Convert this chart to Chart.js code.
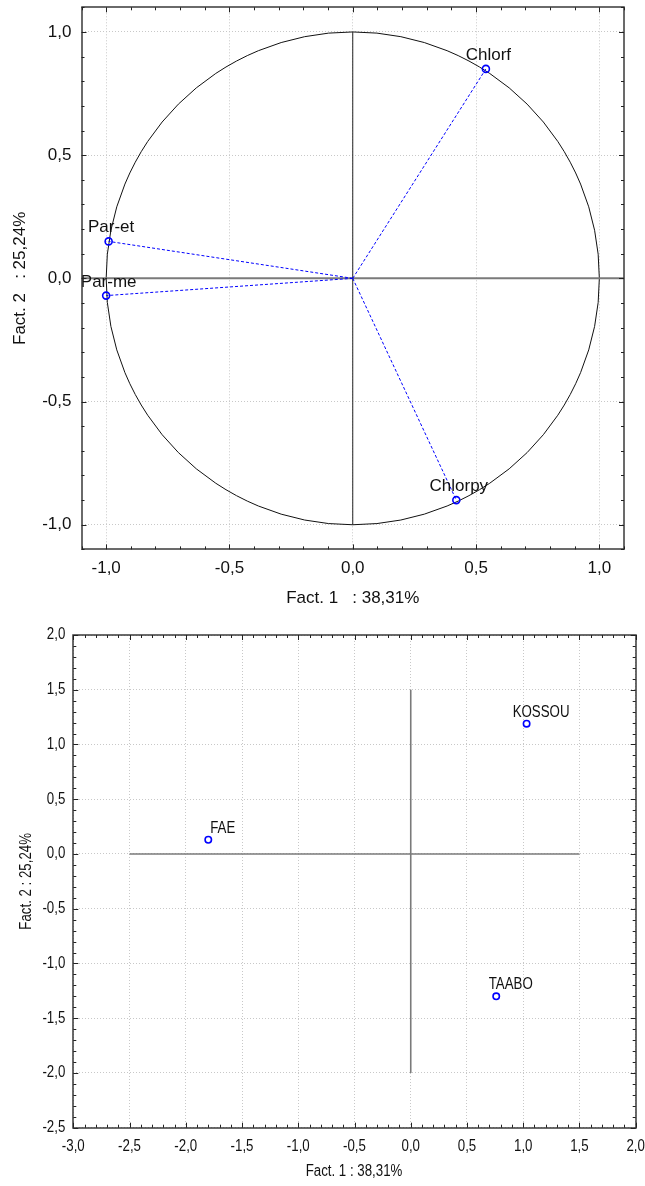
<!DOCTYPE html>
<html><head><meta charset="utf-8">
<script src="https://cdn.jsdelivr.net/npm/chart.js@4.4.0/dist/chart.umd.min.js"></script>
<style>
html,body{margin:0;padding:0;background:#fff;}
#w1{position:absolute;left:0;top:0;width:645px;height:610px;}
#w2{position:absolute;left:0;top:610px;width:645px;height:576px;}
</style></head><body>
<div id="w1"><canvas id="c1" width="645" height="610"></canvas></div>
<div id="w2"><canvas id="c2" width="645" height="576"></canvas></div>
<script>
// ---------- Top chart: variables (correlation circle) ----------
const varNames = ['Chlorf', 'Par-et', 'Par-me', 'Chlorpy'];
const varF1 = [0.54, -0.99, -1.00, 0.42];
const varF2 = [0.85, 0.15, -0.07, -0.90];
const topTicks = [-1.0, -0.5, 0.0, 0.5, 1.0];
const topRange = [-1.1, 1.1];
const topHAxis = [-1.1, 1.1];
const topVAxis = [-1.0, 1.0];
const topXTitle = 'Fact. 1   : 38,31%';
const topYTitle = 'Fact. 2   : 25,24%';

// ---------- Bottom chart: sites ----------
const siteNames = ['KOSSOU', 'FAE', 'TAABO'];
const siteF1 = [1.03, -1.80, 0.76];
const siteF2 = [1.19, 0.13, -1.30];
const botXTicks = [-3.0, -2.5, -2.0, -1.5, -1.0, -0.5, 0.0, 0.5, 1.0, 1.5, 2.0];
const botYTicks = [-2.5, -2.0, -1.5, -1.0, -0.5, 0.0, 0.5, 1.0, 1.5, 2.0];
const botXRange = [-3.0, 2.0];
const botYRange = [-2.5, 2.0];
const botHAxis = [-2.5, 1.5];
const botVAxis = [-2.0, 1.5];
const botXTitle = 'Fact. 1 : 38,31%';
const botYTitle = 'Fact. 2 : 25,24%';

const BLUE = '#0000ff';
const fmt = v => (Math.abs(v) < 1e-9 ? 0 : v).toFixed(1).replace('.', ',');

function textSq(ctx, t, x, y, sx) {
  ctx.save(); ctx.translate(x, y); ctx.scale(sx, 1); ctx.fillText(t, 0, 0); ctx.restore();
}

function frameAndTicksPlugin(opts) {
  return {
    id: 'frameTicks' + opts.key,
    beforeDatasetsDraw(chart) {
      const ctx = chart.ctx;
      const xs = chart.scales.x, ys = chart.scales.y;
      if (opts.circle) {
        const cx = xs.getPixelForValue(0), cy = ys.getPixelForValue(0);
        const rx = xs.getPixelForValue(1) - cx, ry = cy - ys.getPixelForValue(1);
        ctx.save();
        ctx.strokeStyle = '#111'; ctx.lineWidth = 1;
        ctx.beginPath(); ctx.ellipse(cx, cy, rx, ry, 0, 0, Math.PI * 2); ctx.stroke();
        ctx.restore();
      }
    },
    afterDatasetsDraw(chart) {
      const ctx = chart.ctx, a = chart.chartArea;
      const xs = chart.scales.x, ys = chart.scales.y;
      const sx = opts.squeeze;
      ctx.save();
      // point labels
      ctx.font = opts.labelFont; ctx.fillStyle = '#111';
      ctx.textAlign = 'center'; ctx.textBaseline = 'alphabetic';
      opts.names.forEach((n, i) => {
        const px = xs.getPixelForValue(opts.f1[i]), py = ys.getPixelForValue(opts.f2[i]);
        textSq(ctx, n, px + opts.lblDx, py - opts.lblDy, sx);
      });
      // frame
      ctx.strokeStyle = '#3a3a3a'; ctx.lineWidth = 1.5;
      ctx.strokeRect(Math.round(a.left), Math.round(a.top),
                     Math.round(a.right) - Math.round(a.left), Math.round(a.bottom) - Math.round(a.top));
      // inward minor ticks every 0.1
      ctx.lineWidth = 1; ctx.strokeStyle = '#222';
      ctx.beginPath();
      for (let i = Math.ceil(xs.min * 10 - 1e-6); i <= Math.floor(xs.max * 10 + 1e-6); i++) {
        const p = Math.round(xs.getPixelForValue(i / 10)) + 0.5;
        const L = (i % 5 === 0) ? 5 : 3;
        ctx.moveTo(p, a.bottom); ctx.lineTo(p, a.bottom - L);
        ctx.moveTo(p, a.top); ctx.lineTo(p, a.top + L);
      }
      for (let i = Math.ceil(ys.min * 10 - 1e-6); i <= Math.floor(ys.max * 10 + 1e-6); i++) {
        const p = Math.round(ys.getPixelForValue(i / 10)) + 0.5;
        const L = (i % 5 === 0) ? 5 : 3;
        ctx.moveTo(a.left, p); ctx.lineTo(a.left + L, p);
        ctx.moveTo(a.right, p); ctx.lineTo(a.right - L, p);
      }
      ctx.stroke();
      ctx.restore();
    },
    afterDraw(chart) {
      const ctx = chart.ctx, a = chart.chartArea;
      const xs = chart.scales.x, ys = chart.scales.y;
      const sx = opts.squeeze;
      ctx.save();
      ctx.fillStyle = '#111';
      // tick labels (drawn here when squeezed text is needed)
      if (opts.ownTicks) {
        ctx.font = opts.tickFont; ctx.textBaseline = 'middle';
        ctx.textAlign = 'center';
        xs.ticks.forEach(t => textSq(ctx, fmt(t.value), xs.getPixelForValue(t.value), a.bottom + opts.xTickDy, sx));
        ctx.textAlign = 'right';
        ys.ticks.forEach(t => textSq(ctx, fmt(t.value), a.left - opts.yTickDx, ys.getPixelForValue(t.value), sx));
      }
      // axis titles
      ctx.font = opts.titleFont;
      ctx.textAlign = 'center'; ctx.textBaseline = 'middle';
      textSq(ctx, opts.xTitle, (a.left + a.right) / 2 + opts.xTitleDx, opts.xTitleY, sx);
      ctx.translate(opts.yTitleX, (a.top + a.bottom) / 2);
      ctx.rotate(-Math.PI / 2);
      textSq(ctx, opts.yTitle, 0, 0, sx);
      ctx.restore();
    }
  };
}

function axisScale(range, ticks, font, pad, fitKey, fitVal, showLabels) {
  return {
    type: 'linear', min: range[0], max: range[1],
    afterBuildTicks: s => { s.ticks = ticks.map(v => ({ value: v })); },
    afterFit: s => {
      s[fitKey] = fitVal;
      s.paddingTop = 0; s.paddingBottom = 0; s.paddingLeft = 0; s.paddingRight = 0;
    },
    grid: { color: '#c8c8c8', lineWidth: 1, drawTicks: false },
    border: { display: false, dash: [1, 2] },
    ticks: { display: showLabels, padding: pad, color: '#111', font: font, callback: v => fmt(v), autoSkip: false, maxRotation: 0 }
  };
}

// ---------- Top chart ----------
const topFont = { family: 'Arial, "Liberation Sans", sans-serif', size: 17 };
const topDatasets = [
  { data: [{ x: topHAxis[0], y: 0 }, { x: topHAxis[1], y: 0 }], showLine: true, borderColor: '#7a7a7a', borderWidth: 2, pointRadius: 0, order: 10 },
  { data: [{ x: 0, y: topVAxis[0] }, { x: 0, y: topVAxis[1] }], showLine: true, borderColor: '#222', borderWidth: 1, pointRadius: 0, order: 9 }
];
varNames.forEach((n, i) => {
  topDatasets.push({ data: [{ x: 0, y: 0 }, { x: varF1[i], y: varF2[i] }], showLine: true, borderColor: BLUE, borderWidth: 1, borderDash: [3, 2], pointRadius: 0, order: 5 });
});
topDatasets.push({
  data: varF1.map((v, i) => ({ x: v, y: varF2[i] })), showLine: false,
  pointRadius: 3.5, pointBorderWidth: 1.6, pointBorderColor: BLUE, pointBackgroundColor: 'rgba(0,0,0,0)', order: 1
});

new Chart(document.getElementById('c1'), {
  type: 'scatter',
  data: { datasets: topDatasets },
  options: {
    responsive: false, animation: false, devicePixelRatio: 1,
    layout: { padding: { top: 7.3, right: 21, left: 0, bottom: 0 } },
    plugins: { legend: { display: false }, tooltip: { enabled: false } },
    scales: {
      x: axisScale(topRange, topTicks, topFont, 9, 'height', 610 - 549.4, true),
      y: axisScale(topRange, topTicks, topFont, 10, 'width', 81.5, true)
    }
  },
  plugins: [frameAndTicksPlugin({
    key: 'top', circle: true, squeeze: 1, ownTicks: false, names: varNames, f1: varF1, f2: varF2,
    labelFont: '17px Arial, "Liberation Sans", sans-serif', lblDx: 2.5, lblDy: 9,
    titleFont: '17px Arial, "Liberation Sans", sans-serif',
    xTitle: topXTitle, xTitleY: 598, xTitleDx: 0, yTitle: topYTitle, yTitleX: 20
  })]
});

// ---------- Bottom chart ----------
const botFamily = 'Arial, "Liberation Sans", sans-serif';
const botFont = { family: botFamily, size: 16 };
const botDatasets = [
  { data: [{ x: botHAxis[0], y: 0 }, { x: botHAxis[1], y: 0 }], showLine: true, borderColor: '#7a7a7a', borderWidth: 1.6, pointRadius: 0, order: 10 },
  { data: [{ x: 0, y: botVAxis[0] }, { x: 0, y: botVAxis[1] }], showLine: true, borderColor: '#7a7a7a', borderWidth: 1.6, pointRadius: 0, order: 9 },
  {
    data: siteF1.map((v, i) => ({ x: v, y: siteF2[i] })), showLine: false,
    pointRadius: 3.2, pointBorderWidth: 1.6, pointBorderColor: BLUE, pointBackgroundColor: 'rgba(0,0,0,0)', order: 1
  }
];

new Chart(document.getElementById('c2'), {
  type: 'scatter',
  data: { datasets: botDatasets },
  options: {
    responsive: false, animation: false, devicePixelRatio: 1,
    layout: { padding: { top: 25, right: 9.3, left: 0, bottom: 0 } },
    plugins: { legend: { display: false }, tooltip: { enabled: false } },
    scales: {
      x: axisScale(botXRange, botXTicks, botFont, 9, 'height', 576 - 517.7, false),
      y: axisScale(botYRange, botYTicks, botFont, 8, 'width', 73.3, false)
    }
  },
  plugins: [frameAndTicksPlugin({
    key: 'bot', circle: false, squeeze: 0.83, ownTicks: true, names: siteNames, f1: siteF1, f2: siteF2,
    tickFont: '16px ' + botFamily, xTickDy: 19, yTickDx: 8,
    labelFont: '16px ' + botFamily, lblDx: 14.5, lblDy: 7,
    titleFont: '16px ' + botFamily,
    xTitle: botXTitle, xTitleY: 562, xTitleDx: -0.5, yTitle: botYTitle, yTitleX: 27
  })]
});
</script>
</body></html>
